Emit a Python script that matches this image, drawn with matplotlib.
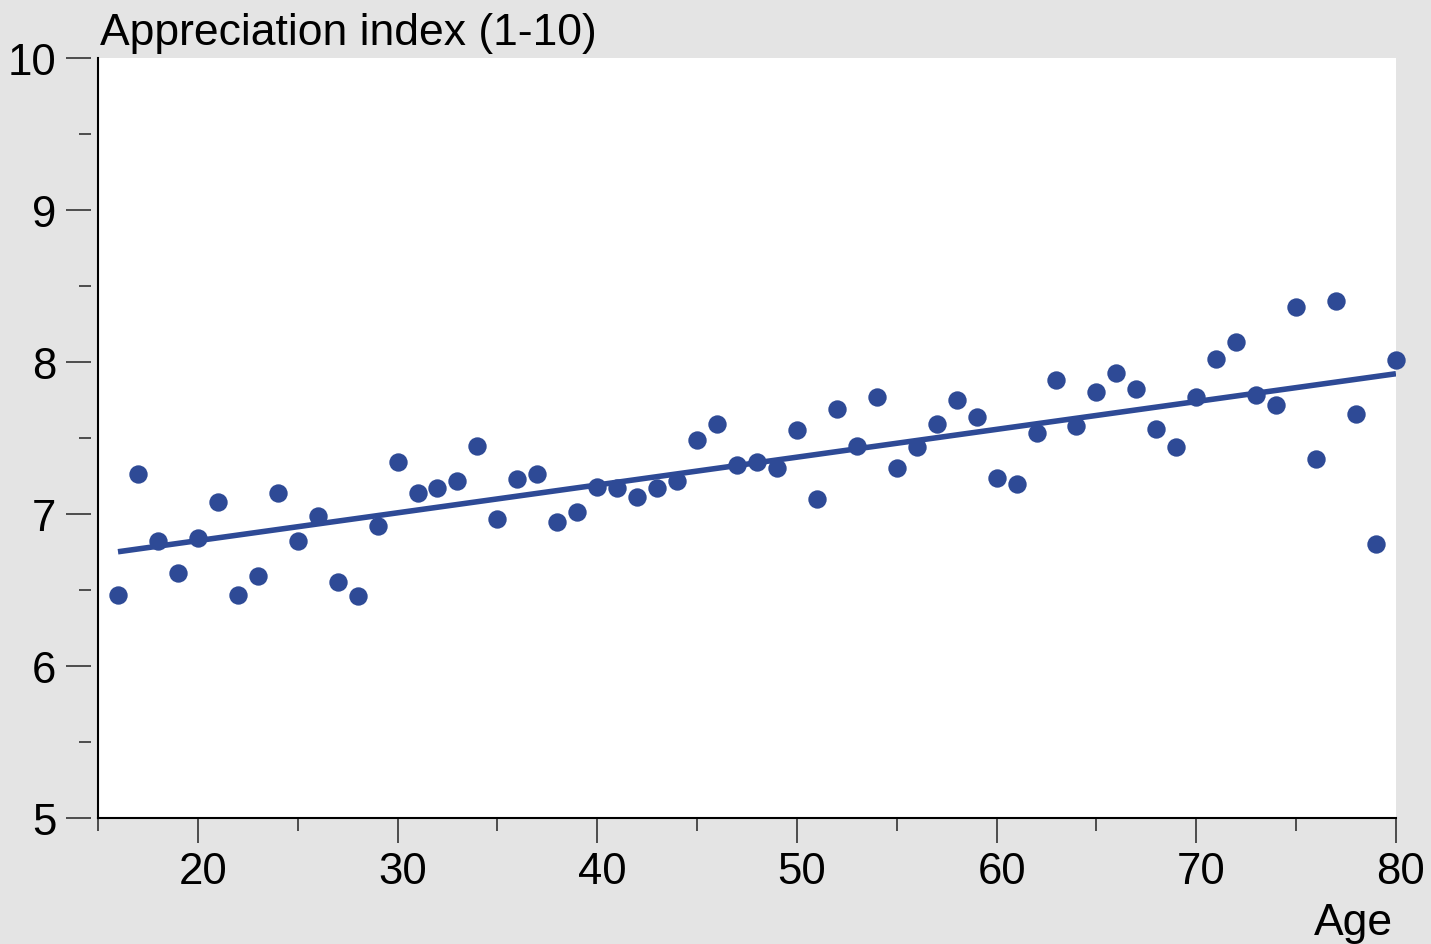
import matplotlib.pyplot as plt
import matplotlib.transforms as mtransforms
import numpy as np

## Age of respondents and their average appreciation score
ages = np.arange(16, 81)
scores = [6.47, 7.26, 6.82, 6.61, 6.84, 7.08, 6.47, 6.59, 7.14, 6.82,
          6.99, 6.55, 6.46, 6.92, 7.34, 7.14, 7.17, 7.22, 7.45, 6.97,
          7.23, 7.26, 6.95, 7.01, 7.18, 7.17, 7.11, 7.17, 7.22, 7.49,
          7.59, 7.32, 7.34, 7.30, 7.55, 7.10, 7.69, 7.45, 7.77, 7.30,
          7.44, 7.59, 7.75, 7.64, 7.24, 7.20, 7.53, 7.88, 7.58, 7.80,
          7.93, 7.82, 7.56, 7.44, 7.77, 8.02, 8.13, 7.78, 7.72, 8.36,
          7.36, 8.40, 7.66, 6.80, 8.01]

yTicks = [5, 6, 7, 8, 9, 10]
xTicks = [20, 30, 40, 50, 60, 70, 80]

blue = "#2e4a96"
gray = "#e4e4e4"

plt.rcParams['font.family'] = ['Liberation Sans', 'DejaVu Sans']

fig = plt.figure(figsize=(14.31, 9.45), dpi=100, facecolor=gray)
ax = fig.add_axes([0.0685, 0.1333, 0.907, 0.8043])
ax.set_facecolor("white")

## Linear trend through the points
slope, intercept = np.polyfit(ages, scores, 1)
ax.plot(ages, slope * ages + intercept, color=blue, linewidth=4.0,
        solid_capstyle="butt", zorder=2)
ax.scatter(ages, scores, s=175, color=blue, linewidths=0, zorder=3,
           clip_on=False)

ax.set_xlim(15, 80)
ax.set_ylim(5, 10)

## Spines: only left and bottom, y ticks sit a little away from the axis line
for side in ["top", "right"]:
    ax.spines[side].set_visible(False)
ax.spines['bottom'].set_linewidth(1.5)
ax.spines['left'].set_position(('outward', 5))
ax.spines['left'].set_visible(False)
ax.axvline(15, color="black", linewidth=1.5, zorder=4, clip_on=False)

ax.set_yticks(yTicks)
ax.set_yticks(np.arange(5.5, 10, 1.0), minor=True)
ax.set_xticks(xTicks)
ax.set_xticks([15, 25, 35, 45, 55, 65, 75], minor=True)
ax.set_yticklabels([str(t) for t in yTicks])
ax.set_xticklabels([str(t) for t in xTicks])

ax.tick_params(axis="y", which="major", length=18, width=1.2, color="#333333",
               labelsize=31.5, pad=7)
ax.tick_params(axis="y", which="minor", length=9, width=1.2, color="#333333")
ax.tick_params(axis="x", which="major", length=18, width=1.2, color="#333333",
               labelsize=31.5, pad=6)
ax.tick_params(axis="x", which="minor", length=9, width=1.2, color="#333333")

## x labels sit slightly right of their ticks
shift = mtransforms.ScaledTranslation(5 / 100, 0, fig.dpi_scale_trans)
for lbl in ax.get_xticklabels():
    lbl.set_transform(lbl.get_transform() + shift)

fig.text(0.0699, 0.952, "Appreciation index (1-10)", fontsize=32,
         ha="left", va="baseline")
fig.text(0.9735, 0.011, "Age", fontsize=32, ha="right", va="baseline")

plt.savefig("out.png", dpi=100, facecolor=gray)
